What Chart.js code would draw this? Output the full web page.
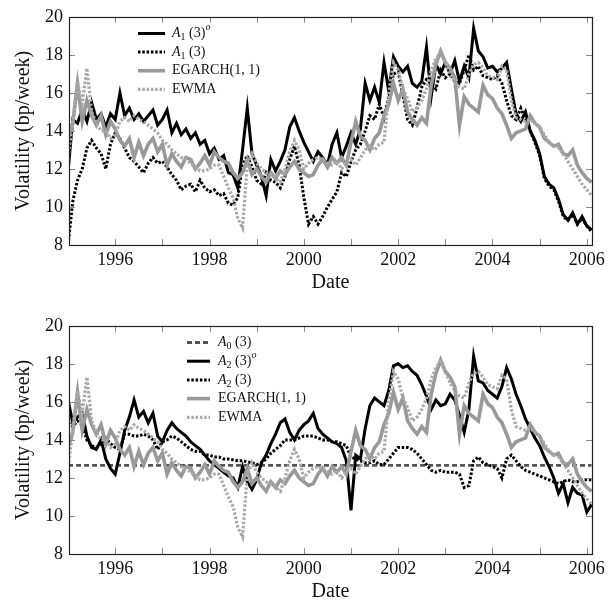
<!DOCTYPE html>
<html><head><meta charset="utf-8">
<script src="https://cdn.jsdelivr.net/npm/chart.js@4/dist/chart.umd.min.js"></script>
<style>
html,body{margin:0;padding:0;background:#fff;overflow:hidden;width:614px;height:603px;}
.box{position:absolute;left:0;width:614px;height:300px;}
#top{top:0}
#bot{top:309px}
</style></head><body>
<div class="box" id="top"><canvas id="c1" width="614" height="300"></canvas></div>
<div class="box" id="bot"><canvas id="c2" width="614" height="300"></canvas></div>
<script>
// ---- data (years, weekly volatility in bp/week) ----
const dates = [1995.0,1995.1,1995.2,1995.3,1995.4,1995.5,1995.6,1995.7,1995.8,1995.9,
1996.0,1996.1,1996.2,1996.3,1996.4,1996.5,1996.6,1996.7,1996.8,1996.9,
1997.0,1997.1,1997.2,1997.3,1997.4,1997.5,1997.6,1997.7,1997.8,1997.9,
1998.0,1998.1,1998.2,1998.3,1998.4,1998.5,1998.6,1998.7,1998.8,1998.9,
1999.0,1999.1,1999.2,1999.3,1999.4,1999.5,1999.6,1999.7,1999.8,1999.9,
2000.0,2000.1,2000.2,2000.3,2000.4,2000.5,2000.6,2000.7,2000.8,2000.9,
2001.0,2001.1,2001.2,2001.3,2001.4,2001.5,2001.6,2001.7,2001.8,2001.9,
2002.0,2002.1,2002.2,2002.3,2002.4,2002.5,2002.6,2002.7,2002.8,2002.9,
2003.0,2003.1,2003.2,2003.3,2003.4,2003.5,2003.6,2003.7,2003.8,2003.9,
2004.0,2004.1,2004.2,2004.3,2004.4,2004.5,2004.6,2004.7,2004.8,2004.9,
2005.0,2005.1,2005.2,2005.3,2005.4,2005.5,2005.6,2005.7,2005.8,2005.9,
2006.0,2006.1];

const a1o = [11.9,14.6,14.4,15.1,14.5,15.5,14.6,14.9,14.2,14.9,
14.6,16.0,14.8,15.2,14.6,14.9,14.5,14.8,15.1,14.3,
14.6,15.1,13.9,14.4,13.8,14.1,13.6,13.9,13.3,13.5,
12.8,13.1,12.5,12.7,11.8,11.7,11.0,13.0,15.2,12.8,
12.2,11.6,10.6,12.5,11.9,12.4,13.0,14.2,14.7,14.0,
13.4,12.9,12.4,12.9,12.6,12.2,13.3,13.9,12.6,13.2,
13.9,13.3,14.1,16.5,15.6,16.3,15.5,17.6,16.1,17.9,
17.4,17.1,17.4,16.5,16.3,16.6,18.4,15.8,17.5,17.0,
17.6,17.0,17.7,16.6,17.4,16.8,19.4,18.2,17.9,17.3,
17.4,17.1,17.3,17.6,16.2,14.9,14.5,15.0,14.0,13.5,
12.8,11.6,11.2,11.0,10.4,9.6,9.3,9.7,9.1,9.5,
9.0,8.8];

const a1 = [8.0,10.3,11.4,12.0,13.1,13.5,13.1,12.8,12.0,13.3,
13.9,13.6,13.1,12.6,12.4,12.1,11.8,12.3,12.6,12.3,
12.4,12.1,11.7,11.4,10.9,11.1,11.2,10.8,11.4,11.0,
10.8,10.9,10.6,10.7,10.2,10.1,10.5,12.2,12.7,12.1,
11.4,11.2,11.8,11.4,11.3,11.0,11.6,12.5,13.2,12.2,
10.5,9.1,9.5,9.1,9.5,10.0,10.4,10.8,11.8,11.6,
12.4,13.0,13.3,14.0,14.8,14.6,15.4,14.7,15.8,17.0,
17.1,15.9,14.6,14.3,15.2,16.3,16.7,16.5,16.2,17.2,
16.8,17.0,16.6,16.5,17.2,18.0,17.2,17.4,16.9,16.8,
16.7,16.9,16.5,15.6,14.8,14.6,15.2,14.6,14.0,13.4,
12.7,11.5,11.1,10.9,10.3,9.5,9.3,9.6,9.1,9.4,
9.0,8.7];

const egarch = [13.6,14.4,16.5,14.5,15.6,14.8,14.3,14.8,13.8,14.5,
14.1,13.5,13.2,13.6,12.6,13.4,12.7,13.3,13.6,12.9,
13.3,12.2,12.8,12.4,12.1,12.6,12.5,12.0,12.3,12.7,
12.2,12.9,12.6,12.4,12.3,11.8,11.5,11.8,12.5,11.7,
12.0,11.6,11.3,11.8,11.5,11.9,11.7,12.1,12.4,12.0,
11.8,11.6,11.7,12.2,12.5,12.1,12.6,12.3,12.6,12.2,
13.4,14.5,13.7,13.5,13.0,13.6,13.9,14.8,15.4,16.5,
15.6,16.2,15.0,14.6,14.3,14.7,14.4,16.4,17.5,18.2,
17.6,17.3,16.8,14.3,15.8,15.4,15.2,15.0,16.4,15.9,
15.7,15.2,14.9,14.3,13.6,13.9,14.0,14.1,14.8,14.4,
14.2,13.6,13.4,13.2,13.3,12.8,12.7,13.0,12.2,11.8,
11.5,11.3];

const ewma = [12.6,14.5,16.6,15.4,17.3,15.0,14.4,14.0,14.0,13.6,
13.8,14.5,14.7,14.5,14.8,14.6,14.5,14.3,14.1,13.9,
13.5,13.3,13.0,12.8,12.6,12.5,12.3,12.1,11.9,11.9,
12.0,12.2,12.2,11.6,11.0,10.5,9.4,8.9,12.2,12.8,
12.3,12.0,11.8,11.7,11.5,11.3,12.0,12.9,13.5,13.0,
12.0,12.3,12.5,12.6,12.5,12.3,12.2,12.4,12.0,12.3,
12.5,12.2,12.6,13.0,13.2,13.0,13.3,13.4,16.0,17.6,
17.2,16.2,15.7,15.0,15.2,15.6,16.2,17.2,17.8,18.1,
17.6,17.0,16.6,16.3,16.2,17.0,17.5,17.6,17.3,16.9,
16.8,16.7,17.4,17.2,15.6,14.7,14.6,14.5,14.6,14.4,
14.2,13.8,13.4,13.2,13.1,12.8,12.4,12.0,11.6,11.2,
10.9,10.6];

const a2o = [16.1,14.9,15.2,15.4,14.2,13.6,13.5,14.0,13.0,12.5,
12.2,13.3,14.5,15.2,16.1,15.2,15.5,14.9,15.4,14.2,
13.9,14.5,14.9,14.6,14.4,14.2,13.9,13.7,13.5,13.2,
12.9,12.7,12.5,12.3,12.1,12.0,11.5,12.6,11.8,11.4,
11.9,12.8,13.2,13.8,14.3,14.9,15.1,14.4,14.0,14.5,
14.8,15.0,15.4,14.6,14.3,14.1,13.9,13.8,13.6,12.9,
10.3,13.2,13.0,14.6,15.8,16.2,16.0,15.8,16.6,17.9,
18.0,17.8,17.9,17.6,17.4,16.9,16.3,15.6,16.1,15.8,
15.9,16.4,16.1,15.3,14.4,15.6,18.4,17.1,17.0,16.6,
16.4,16.2,16.8,17.8,17.2,16.4,15.8,15.1,14.6,14.1,
13.7,13.1,12.6,12.0,11.2,11.7,10.7,11.5,11.2,11.1,
10.2,10.6];

const a2 = [14.9,14.7,15.0,14.8,14.0,13.7,13.6,13.8,14.1,13.8,
13.6,13.5,14.3,14.3,14.2,14.2,14.3,14.2,14.0,13.5,
13.9,14.0,14.2,14.1,13.9,13.7,13.5,13.4,13.4,13.2,
13.2,13.1,13.1,13.0,13.0,12.95,12.9,12.9,12.85,12.8,
12.7,12.8,13.0,13.3,13.5,13.7,14.0,14.0,14.0,14.1,
14.2,14.2,14.2,14.1,14.0,14.0,13.9,13.9,13.8,13.7,
13.1,13.0,12.9,12.8,12.8,12.9,12.7,12.7,13.0,13.3,
13.6,13.6,13.6,13.5,13.3,13.0,12.7,12.4,12.3,12.4,
12.3,12.3,12.3,12.2,11.5,11.6,12.9,13.1,12.8,12.7,
12.6,12.5,12.0,13.0,13.2,12.9,12.6,12.4,12.3,12.2,
12.1,12.0,11.9,11.8,11.7,11.8,11.9,11.8,11.8,11.9,
11.9,11.9];

const a0Level = 12.66;

const xTicks = [1996,1997,1998,1999,2000,2001,2002,2003,2004,2005,2006];
const xTickLabels = ['1996','','1998','','2000','','2002','','2004','','2006'];
const yTicks = [8,10,12,14,16,18,20];
const yTickLabels = ['8','10','12','14','16','18','20'];
const xTitle = 'Date';
const yTitle = 'Volatility (bp/week)';
const topLabels = ['A_1 (3)^o','A_1 (3)','EGARCH(1, 1)','EWMA'];
const botLabels = ['A_0 (3)','A_2 (3)^o','A_2 (3)','EGARCH(1, 1)','EWMA'];

// ---- rendering ----
const FONT = '"Liberation Serif", "DejaVu Serif", serif';
const X_MIN = 1995.02, X_MAX = 2006.11;

function pts(arr){ return dates.map((d,i)=>({x:d, y:arr[i]})); }

function drawRich(ctx, text, x, y, math){
  let cx = x;
  ctx.save();
  ctx.fillStyle = '#111'; ctx.textBaseline = 'middle'; ctx.textAlign = 'left';
  for (let i=0;i<text.length;i++){
    let ch = text[i], size = 14, dy = 0, italic = math && /[A-Za-z]/.test(ch);
    if (ch === '_'){ ch = text[++i]; size = 10; dy = 4; italic = false; }
    else if (ch === '^'){ ch = text[++i]; size = 10; dy = -6; italic = true; }
    ctx.font = (italic ? 'italic ' : '') + size + 'px ' + FONT;
    ctx.fillText(ch, cx, y + dy);
    cx += ctx.measureText(ch).width;
  }
  ctx.restore();
}

const texLegend = {
  id:'texLegend',
  afterDatasetsDraw(chart, args, o){
    const ctx = chart.ctx;
    chart.data.datasets.forEach((ds,i)=>{
      const cy = o.y + i*o.rowH;
      ctx.save();
      ctx.strokeStyle = ds.borderColor; ctx.lineWidth = ds.borderWidth;
      ctx.setLineDash(ds.borderDash || []);
      ctx.beginPath(); ctx.moveTo(o.x, cy); ctx.lineTo(o.x + o.len, cy); ctx.stroke();
      ctx.restore();
      drawRich(ctx, ds.label, o.x + o.len + o.gap, cy, ds.mathLabel);
    });
  }
};

const frameTicks = {
  id:'frameTicks',
  afterDraw(chart){
    const {ctx, chartArea:a, scales:{x,y}} = chart;
    ctx.save();
    ctx.beginPath();
    ctx.strokeStyle = '#8a8a8a'; ctx.lineWidth = 1;
    xTicks.forEach(v=>{
      const px = Math.round(x.getPixelForValue(v))+0.5;
      ctx.moveTo(px, a.bottom); ctx.lineTo(px, a.bottom-6);
      ctx.moveTo(px, a.top); ctx.lineTo(px, a.top+6);
    });
    yTicks.forEach(v=>{
      const py = Math.round(y.getPixelForValue(v))+0.5;
      ctx.moveTo(a.left, py); ctx.lineTo(a.left+6, py);
      ctx.moveTo(a.right, py); ctx.lineTo(a.right-6, py);
    });
    ctx.stroke();
    ctx.strokeStyle = '#222'; ctx.lineWidth = 1.2;
    ctx.strokeRect(Math.round(a.left)+0.5, Math.round(a.top)+0.5, Math.round(a.right-a.left), Math.round(a.bottom-a.top));
    ctx.restore();
  }
};

const STY = {
  solidBlack: {borderColor:'#000', borderWidth:3, borderDash:[]},
  dotBlack:   {borderColor:'#000', borderWidth:3, borderDash:[2.5,1.8]},
  egarch:     {borderColor:'#999', borderWidth:3.6, borderDash:[]},
  ewma:       {borderColor:'#a9a9a9', borderWidth:3.2, borderDash:[2.5,1.8]},
  a0:         {borderColor:'#555', borderWidth:2.8, borderDash:[5,3]}
};

function ds(label, data, sty, order, math){
  return Object.assign({label, data, order, mathLabel: math, pointRadius:0, tension:0, fill:false}, sty);
}

function makeChart(id, datasets, leg){
  return new Chart(document.getElementById(id), {
    type:'line',
    data:{datasets},
    options:{
      responsive:false, animation:false, devicePixelRatio:1,
      layout:{padding:{left:0, right:22, top:13, bottom:0}},
      plugins:{legend:{display:false}, tooltip:{enabled:false}, texLegend:leg},
      scales:{
        x:{type:'linear', min:X_MIN, max:X_MAX,
           afterBuildTicks:s=>{ s.ticks = xTicks.map(v=>({value:v})); },
           afterFit:s=>{ s.height = 55; },
           grid:{display:false, drawTicks:false}, border:{display:false},
           ticks:{autoSkip:false, maxRotation:0, padding:4, color:'#111',
                  font:{family:FONT, size:18}, callback:(v,i)=>xTickLabels[i]},
           title:{display:true, text:xTitle, color:'#111', font:{family:FONT, size:20}, padding:{top:0, bottom:5}}},
        y:{type:'linear', min:8, max:20,
           afterBuildTicks:s=>{ s.ticks = yTicks.map(v=>({value:v})); },
           afterFit:s=>{ s.width = 69; },
           grid:{display:false, drawTicks:false}, border:{display:false},
           ticks:{padding:6, color:'#111', font:{family:FONT, size:18}, callback:(v,i)=>yTickLabels[i]},
           title:{display:true, text:yTitle, color:'#111', font:{family:FONT, size:20}, padding:{top:12, bottom:0}}}
      }
    },
    plugins:[frameTicks, texLegend]
  });
}

makeChart('c1', [
  ds(topLabels[0], pts(a1o), STY.solidBlack, 4, true),
  ds(topLabels[1], pts(a1), STY.dotBlack, 3, true),
  ds(topLabels[2], pts(egarch), STY.egarch, 2, false),
  ds(topLabels[3], pts(ewma), STY.ewma, 1, false)
], {x:138, y:33.5, rowH:18.6, len:27, gap:7});

makeChart('c2', [
  ds(botLabels[0], [{x:dates[0], y:a0Level},{x:dates[dates.length-1], y:a0Level}], STY.a0, 5, true),
  ds(botLabels[1], pts(a2o), STY.solidBlack, 4, true),
  ds(botLabels[2], pts(a2), STY.dotBlack, 3, true),
  ds(botLabels[3], pts(egarch), STY.egarch, 2, false),
  ds(botLabels[4], pts(ewma), STY.ewma, 1, false)
], {x:187, y:33.5, rowH:18.7, len:23, gap:8});
</script>
</body></html>
